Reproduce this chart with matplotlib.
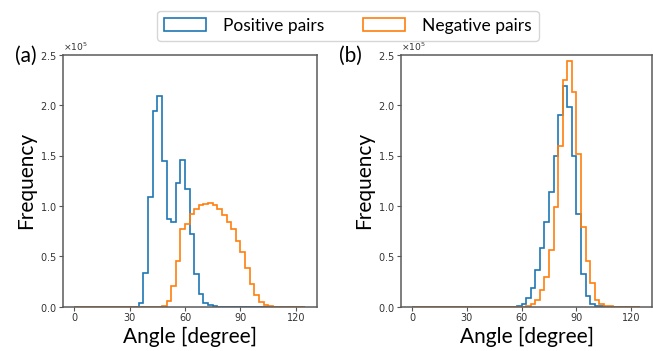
import numpy as np
import matplotlib
matplotlib.use("Agg")
import matplotlib.pyplot as plt

# ---------------- data (counts in units of 1e5, bins of 2.5 degrees from 0 to 125) ----------------
bin_start = 0.0
bin_stop = 125.0
n_bins = 50

pos_a = [0]*14 + [0.04, 0.33, 1.09, 1.94, 2.09, 1.45, 0.87, 0.84, 1.23, 1.46,
                  1.17, 0.72, 0.32, 0.13, 0.04, 0.012, 0.004, 0.001] + [0]*18
neg_a = [0]*19 + [0.005, 0.06, 0.21, 0.45, 0.77, 0.82, 0.92, 0.97, 1.01, 1.02,
                  1.03, 1.01, 0.97, 0.91, 0.84, 0.77, 0.65, 0.54, 0.38, 0.23,
                  0.12, 0.05, 0.013, 0.003, 0.001] + [0]*6
pos_b = [0]*23 + [0.005, 0.026, 0.083, 0.19, 0.36, 0.58, 0.84, 1.14, 1.50, 1.90,
                  2.19, 1.98, 1.50, 0.92, 0.32, 0.11, 0.03, 0.01, 0.002] + [0]*8
neg_b = [0]*25 + [0.01, 0.03, 0.07, 0.17, 0.29, 0.56, 0.99, 1.59, 2.25, 2.44,
                  2.13, 1.51, 0.79, 0.45, 0.24, 0.07, 0.026, 0.007, 0.002] + [0]*6

labels = ["Positive pairs", "Negative pairs"]
panel_tags = ["(a)", "(b)"]
xticks = [0, 30, 60, 90, 120]
yticks = [0, 0.5e5, 1.0e5, 1.5e5, 2.0e5, 2.5e5]

# ---------------- plotting ----------------
edges = np.linspace(bin_start, bin_stop, n_bins + 1)
centers = 0.5 * (edges[:-1] + edges[1:])
blue, orange = "#1f77b4", "#ff7f0e"
label_font = "Lato"

fig = plt.figure(figsize=(6.53, 3.51), dpi=100)
W, H = 653, 351
def ax_rect(l, r, t, b):
    return [l / W, 1 - b / H, (r - l) / W, (b - t) / H]

axes = [fig.add_axes(ax_rect(63, 317, 54.7, 306.7)),
        fig.add_axes(ax_rect(401, 652, 54.7, 306.7))]
data = [(pos_a, neg_a), (pos_b, neg_b)]

handles = []
for ax, (p, n) in zip(axes, data):
    _, _, hp = ax.hist(centers, bins=edges, weights=np.array(p) * 1e5,
                       histtype="step", color=blue, linewidth=1.2, label=labels[0])
    _, _, hn = ax.hist(centers, bins=edges, weights=np.array(n) * 1e5,
                       histtype="step", color=orange, linewidth=1.2, label=labels[1])
    ax.set_xlim(-6, 131.4)
    ax.set_ylim(0, 2.5e5)
    ax.set_xticks(xticks)
    ax.set_yticks(yticks)
    ax.ticklabel_format(axis="y", style="sci", scilimits=(0, 0), useMathText=True)
    ax.yaxis.get_offset_text().set_fontsize(6.6)
    ax.yaxis.get_offset_text().set_color("#333333")
    ax.tick_params(labelsize=7, labelcolor="#333333", color="#555555",
                   length=3, width=0.8, pad=1.5)
    for s in ax.spines.values():
        s.set_color("#5a5a5a")
        s.set_linewidth(1.1)
    ax.set_xlabel("Angle [degree]", fontsize=15, family=label_font, labelpad=3)
    ax.set_ylabel("Frequency", fontsize=15, family=label_font, labelpad=3)
    handles = [hp[0], hn[0]]

fig.text(15 / W, 1 - 62 / H, panel_tags[0], fontsize=15, family=label_font)
fig.text(339 / W, 1 - 62 / H, panel_tags[1], fontsize=15, family=label_font)

fig.legend(handles, labels, loc="upper center", bbox_to_anchor=(348 / W, 1 - 2 / H),
           ncol=2, prop={"family": label_font, "size": 12.5}, frameon=True,
           fancybox=True, edgecolor="#cccccc", handlelength=2.4, handleheight=0.8,
           handletextpad=1.0, columnspacing=2.2, borderpad=0.4)

fig.savefig("out.png", dpi=100)
